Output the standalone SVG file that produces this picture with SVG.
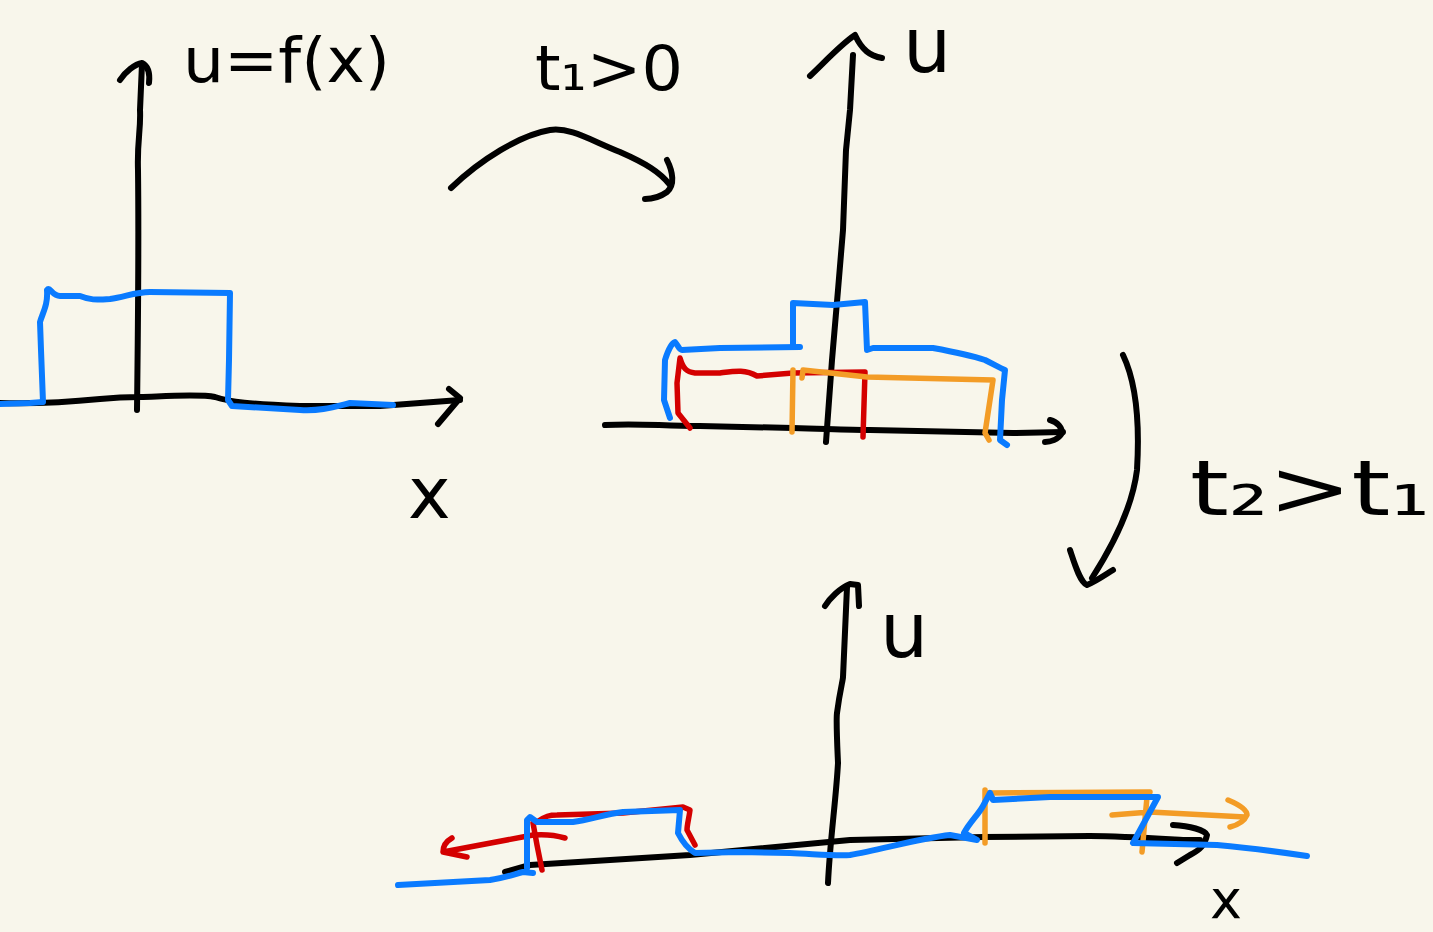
<svg xmlns="http://www.w3.org/2000/svg" width="1433" height="932" viewBox="0 0 1433 932">
<style>
.k{fill:none;stroke:#000;stroke-width:6;stroke-linecap:round;stroke-linejoin:round}
.b{fill:none;stroke:#0A7BFF;stroke-width:6;stroke-linecap:round;stroke-linejoin:round}
.r{fill:none;stroke:#D40000;stroke-width:5.5;stroke-linecap:round;stroke-linejoin:round}
.o{fill:none;stroke:#F39C26;stroke-width:5.5;stroke-linecap:round;stroke-linejoin:round}
.t{font-family:"DejaVu Sans","Liberation Sans",sans-serif;fill:#000}
</style>
<rect width="1433" height="932" fill="#F8F6EB"/>
<g id="panel1">
<path class="k" d="M137,410 C138,330 139,250 138,170 C137,140 141,130 140,110 L142,64"/>
<path class="k" d="M120,80 C125,72 135,64 142,63 C148,66 150,74 149,83"/>
<path class="k" d="M0,403 C40,404 70,402 100,399 C120,397 130,397 140,397 C170,396 200,394 215,397 C230,402 250,404 300,406 L380,406 L460,400"/>
<path class="k" d="M449,389 L460,398 L438,424"/>
<path class="b" d="M0,404 L30,403 L43,402 L41,350 L40,322 C43,312 48,305 47,290 C50,286 52,296 60,296 L80,296 C90,300 95,300 110,299 C125,297 135,292 150,292 L230,293 L229,360 L228,400 L232,406 L300,410 C320,411 330,408 350,403 L393,405"/>
<text class="t" x="183" y="82" font-size="62" textLength="207" lengthAdjust="spacingAndGlyphs">u=f(x)</text>
<text class="t" x="408" y="518" font-size="72">x</text>
</g>
<g id="panel2">
<path class="k" d="M826,442 L832,360 L838,290 L843,230 L846,150 L850,110 L853,55"/>
<path class="k" d="M810,76 C825,62 840,45 855,35 C862,50 870,56 882,58"/>
<path class="k" d="M605,425 C640,423 660,426 700,426 L793,428 C830,429 850,430 870,430 L1013,433 L1063,432"/>
<path class="k" d="M1050,420 C1058,422 1062,428 1062,433 C1058,440 1050,442 1045,442"/>
<path class="b" d="M670,418 L664,400 L665,360 C668,350 672,343 675,342 C678,345 679,350 682,350 L720,348 L800,347 M793,346 L793,303 L833,305 L865,302 L867,350 L873,348 L933,348 C955,352 970,355 985,360 C995,365 1000,368 1005,370 L1002,400 L1000,440 L1007,445"/>
<path class="r" d="M690,428 L678,413 L677,383 L680,358 C683,368 686,372 695,373 L720,373 C735,371 745,369 757,376 L793,373 L865,372 L863,437"/>
<path class="o" d="M793,370 L792,432 M802,378 L803,370 L867,377 L993,380 L985,433 L989,440"/>
<text class="t" x="903" y="72" font-size="76">u</text>
</g>
<g id="panel3">
<path class="k" d="M828,883 C830,840 836,800 838,763 C837,740 836,720 837,713 C840,690 843,680 843,677 L847,587"/>
<path class="k" d="M825,606 C830,598 840,588 850,584 L858,585 L859,606"/>
<path class="k" d="M505,872 L530,865 L690,855 L850,840 L983,837 L1090,836 C1120,836 1150,838 1183,840 L1200,840"/>
<path class="k" d="M1173,825 C1190,826 1205,830 1207,835 C1205,845 1200,850 1190,855 L1177,863"/>
<path class="r" d="M565,838 C555,835 545,834 533,835 L443,852 M452,838 C445,842 443,848 443,852 L467,857"/>
<path class="r" d="M533,823 L537,845 L542,870"/>
<path class="r" d="M537,822 C545,816 550,815 557,815 L623,813 L683,807 L690,810 C689,818 687,825 687,830 L695,845"/>
<path class="o" d="M985,790 L985,843 M987,793 L1150,792 M1147,797 L1142,852 M1112,815 L1150,812 L1245,817 M1228,800 C1240,805 1247,810 1247,815 C1244,822 1238,825 1230,827"/>
<path class="b" d="M398,885 L490,880 C505,878 515,874 523,872 L533,873 M527,868 L527,820 L530,817 L537,822 L573,822 C590,820 605,814 623,812 L680,810 L678,833 C684,845 690,850 695,853 L740,852 L790,853 C815,854 835,856 850,855 C880,850 920,838 950,835 L977,840 L964,833 C970,822 978,815 983,806 L990,793 L993,800 L1050,797 L1158,797 L1133,843 L1217,845 C1250,848 1280,852 1307,856"/>
<text class="t" x="880" y="657" font-size="76">u</text>
<text class="t" x="1210" y="918" font-size="54">x</text>
</g>
<g id="connectors">
<path class="k" d="M451,188 C480,160 520,135 550,130 C570,127 590,140 620,152 C645,163 660,172 670,185"/>
<path class="k" d="M667,160 C673,172 675,185 667,192 C660,197 652,199 645,199"/>
<path class="k" d="M1123,355 C1135,380 1140,420 1137,470 C1132,510 1110,550 1092,578"/>
<path class="k" d="M1070,550 C1075,565 1080,582 1087,585 C1095,582 1105,575 1113,570"/>
<text class="t" x="535" y="90" font-size="62" textLength="148" lengthAdjust="spacingAndGlyphs">t₁&gt;0</text>
<text class="t" x="1190" y="515" font-size="76" textLength="240" lengthAdjust="spacingAndGlyphs">t₂&gt;t₁</text>
</g>
</svg>
